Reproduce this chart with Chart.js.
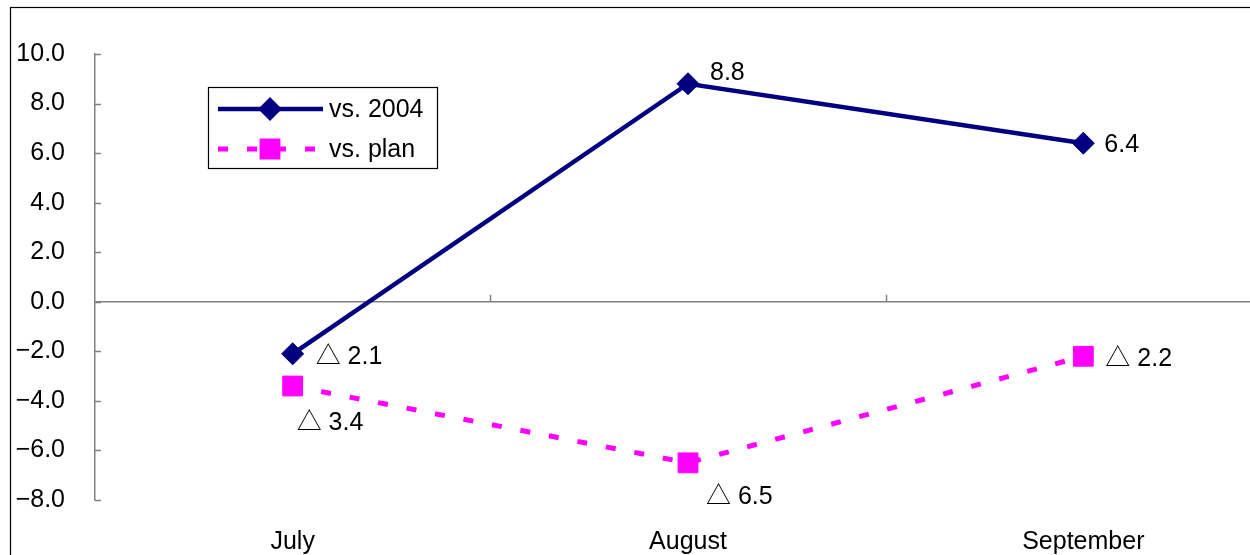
<!DOCTYPE html>
<html>
<head>
<meta charset="utf-8">
<script src="https://cdn.jsdelivr.net/npm/chart.js@4"></script>
<style>
  html, body { margin: 0; padding: 0; background: #fff; overflow: hidden; }
  #wrap { position: relative; width: 1250px; height: 555px; overflow: hidden; }
  canvas { display: block; }
</style>
</head>
<body>
<div id="wrap"><canvas id="chart" width="1296" height="555"></canvas></div>
<script>
const months = ['July', 'August', 'September'];
const vs2004 = [-2.1, 8.8, 6.4];
const vsPlan = [-3.4, -6.5, -2.2];
const yTicks = [-8, -6, -4, -2, 0, 2, 4, 6, 8, 10];

// where each value label sits relative to its point [dx, dy]
const labelOffsets = [
    [[23, 3], [22, -11], [21, 2]],
    [[4, 37], [18, 34], [22, 3]]
];

const FONT = '"Liberation Sans", Arial, "Noto Sans CJK JP", sans-serif';
Chart.defaults.font.family = FONT;
Chart.defaults.font.size = 25;
Chart.defaults.color = '#000';

// negatives are written with a triangle, the usual Japanese style
const fmtValue = v => v < 0 ? '\u25B3 ' + Math.abs(v).toFixed(1) : v.toFixed(1);
const fmtTick = v => v.toFixed(1).replace('-', '\u2212');

const frame = {
    id: 'frame',
    beforeDraw(chart) {
        const { ctx, width, height } = chart;
        ctx.save();
        ctx.fillStyle = '#fff';
        ctx.fillRect(0, 0, width, height);
        ctx.strokeStyle = '#000';
        ctx.lineWidth = 1.2;
        ctx.strokeRect(10.5, 7.5, width + 40, height + 40);
        ctx.restore();
    }
};

const axisMarks = {
    id: 'axisMarks',
    afterDraw(chart) {
        const { ctx, chartArea, scales: { x, y } } = chart;
        ctx.save();
        ctx.strokeStyle = '#808080';
        ctx.lineWidth = 1.5;
        ctx.beginPath();
        y.ticks.forEach(t => {
            const py = Math.round(y.getPixelForValue(t.value)) + 0.5;
            ctx.moveTo(chartArea.left, py);
            ctx.lineTo(chartArea.left + 6, py);
        });
        const y0 = y.getPixelForValue(0);
        for (let i = 1; i < months.length; i++) {
            const px = Math.round(x.getPixelForValue(i - 0.5)) + 0.5;
            ctx.moveTo(px, y0);
            ctx.lineTo(px, y0 - 7);
        }
        ctx.stroke();
        ctx.restore();
    }
};

const valueLabels = {
    id: 'valueLabels',
    afterDatasetsDraw(chart) {
        const { ctx } = chart;
        ctx.save();
        ctx.font = '25px ' + FONT;
        ctx.fillStyle = '#000';
        ctx.textAlign = 'left';
        ctx.textBaseline = 'middle';
        chart.data.datasets.forEach((ds, di) => {
            chart.getDatasetMeta(di).data.forEach((pt, i) => {
                const [dx, dy] = labelOffsets[di][i];
                ctx.fillText(fmtValue(ds.data[i]), pt.x + dx, pt.y + dy);
            });
        });
        ctx.restore();
    }
};

const legendBox = {
    id: 'legendBox',
    afterDraw(chart) {
        const { ctx, chartArea } = chart;
        const x0 = chartArea.left + 113;
        const y0 = chartArea.top + 33;
        ctx.save();
        ctx.fillStyle = '#fff';
        ctx.fillRect(x0, y0, 229, 81);
        ctx.strokeStyle = '#000';
        ctx.lineWidth = 1.2;
        ctx.strokeRect(x0 + 0.5, y0 + 0.5, 229, 81);
        chart.data.datasets.forEach((ds, i) => {
            const ly = y0 + 22 + i * 40;
            ctx.beginPath();
            ctx.setLineDash(ds.borderDash || []);
            ctx.lineWidth = ds.borderWidth;
            ctx.strokeStyle = ds.borderColor;
            ctx.moveTo(x0 + 10, ly);
            ctx.lineTo(x0 + 115, ly);
            ctx.stroke();
            ctx.setLineDash([]);
            ctx.fillStyle = ds.pointBackgroundColor;
            ctx.strokeStyle = ds.pointBorderColor;
            Chart.helpers.drawPoint(ctx, {
                pointStyle: ds.pointStyle,
                radius: ds.pointRadius * 0.8,
                borderWidth: 1,
                rotation: 0
            }, x0 + 62, ly);
            ctx.fillStyle = '#000';
            ctx.font = '25px ' + FONT;
            ctx.textAlign = 'left';
            ctx.textBaseline = 'middle';
            ctx.fillText(ds.label, x0 + 121, ly + 1);
        });
        ctx.restore();
    }
};

new Chart(document.getElementById('chart'), {
    type: 'line',
    data: {
        labels: months,
        datasets: [
            {
                label: 'vs. 2004',
                data: vs2004,
                borderColor: '#000080',
                borderWidth: 4.5,
                pointStyle: 'rectRot',
                pointRadius: 11,
                pointBackgroundColor: '#000080',
                pointBorderColor: '#000080',
                pointBorderWidth: 1,
                tension: 0
            },
            {
                label: 'vs. plan',
                data: vsPlan,
                borderColor: '#ff00ff',
                borderWidth: 5,
                borderDash: [10, 19],
                pointStyle: 'rect',
                pointRadius: 14,
                pointBackgroundColor: '#ff00ff',
                pointBorderColor: '#ff00ff',
                pointBorderWidth: 1,
                tension: 0
            }
        ]
    },
    options: {
        responsive: false,
        animation: false,
        events: [],
        layout: { padding: { top: 54, left: 0, right: 0, bottom: 0 } },
        plugins: {
            legend: { display: false },
            tooltip: { enabled: false }
        },
        scales: {
            x: {
                offset: true,
                grid: { display: false, drawTicks: false },
                border: { display: false },
                ticks: { padding: 27, maxRotation: 0, font: { size: 25 } },
                afterFit: s => { s.height = 55; }
            },
            y: {
                min: -8,
                max: 10,
                afterBuildTicks: s => { s.ticks = yTicks.map(v => ({ value: v })); },
                grid: {
                    drawTicks: false,
                    lineWidth: 1.5,
                    color: c => c.tick && c.tick.value === 0 ? '#808080' : 'rgba(0,0,0,0)'
                },
                border: { display: true, color: '#808080', width: 1.5 },
                ticks: { padding: 30, font: { size: 25 }, callback: v => fmtTick(v) },
                afterFit: s => { s.width = 95; }
            }
        }
    },
    plugins: [frame, axisMarks, valueLabels, legendBox]
});
</script>
</body>
</html>
